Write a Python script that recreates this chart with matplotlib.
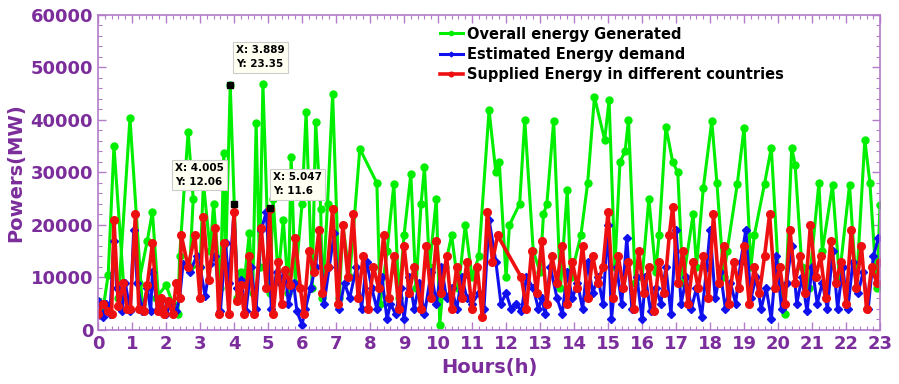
import numpy as np
import matplotlib
matplotlib.use("Agg")
import matplotlib.pyplot as plt
from matplotlib.ticker import MultipleLocator

# hours / values (MW)
gen_h = [0.0, 0.15, 0.3, 0.47, 0.75, 0.6, 0.94, 1.3, 1.2, 1.45, 1.6, 1.8, 1.7, 2.0, 2.2, 2.35,
         2.4, 2.65, 2.8, 2.7, 3.0, 3.1, 3.3, 3.4, 3.6, 3.7, 3.75, 3.889, 4.1, 4.2, 4.3, 4.45,
         4.55, 4.65, 4.75, 4.85, 5.05, 5.15, 5.3, 5.45, 5.6, 5.68, 5.8, 6.0, 6.12, 6.3, 6.4,
         6.55, 6.6, 6.75, 6.9, 7.1, 7.2, 7.4, 7.7, 8.2, 8.3, 8.5, 8.7, 8.85, 9.0, 9.2, 9.35,
         9.5, 9.6, 9.75, 9.95, 10.05, 10.2, 10.4, 10.6, 10.8, 11.0, 11.2, 11.5, 11.7, 11.8,
         12.0, 12.1, 12.4, 12.55, 12.8, 13.0, 13.1, 13.2, 13.4, 13.6, 13.8, 13.9, 14.2, 14.4,
         14.6, 14.9, 15.03, 15.2, 15.35, 15.5, 15.6, 15.8, 16.0, 16.2, 16.4, 16.5, 16.7, 16.9,
         17.05, 17.2, 17.5, 17.6, 17.8, 18.05, 18.2, 18.4, 18.5, 18.8, 19.0, 19.2, 19.3, 19.6,
         19.8, 20.0, 20.2, 20.4, 20.5, 20.7, 20.9, 21.2, 21.3, 21.6, 21.8, 22.1, 22.3, 22.55,
         22.7, 22.9, 23.0]
gen_v = [5500, 4000, 10500, 35000, 9000, 6000, 40400, 5000, 9000, 17000, 22500, 4000, 6000, 8500,
         5000, 3000, 14000, 37700, 25000, 12000, 12000, 28000, 15000, 24000, 8000, 33700, 12000,
         46700, 6000, 11000, 9000, 18500, 7000, 39400, 12000, 46900, 7000, 25000, 10000, 21000,
         7000, 33000, 9000, 24000, 41500, 8000, 39600, 23000, 6000, 24000, 45000, 6000, 20000,
         10000, 34500, 28000, 5000, 15000, 27800, 6000, 18000, 29700, 8000, 24000, 31000, 12000,
         25000, 1000, 12000, 18000, 8000, 20000, 10000, 14000, 41900, 30000, 32000, 10000, 20000,
         24000, 40000, 15000, 11000, 22000, 24000, 39800, 8000, 26700, 10000, 18000, 28000, 44400,
         36200, 43800, 12000, 32000, 34000, 40000, 9000, 10000, 25000, 11000, 18000, 38700, 32000,
         30000, 9000, 22000, 12000, 27000, 39800, 28000, 10000, 15000, 27800, 38500, 12000, 18000,
         27800, 34700, 12000, 3000, 34700, 31500, 12000, 8000, 28000, 15000, 27600, 10000, 27600,
         8000, 36200, 28000, 8000, 23800]

dem_h = [0.0, 0.15, 0.25, 0.35, 0.47, 0.55, 0.7, 0.8, 0.95, 1.05, 1.15, 1.3, 1.45, 1.55, 1.6,
         1.75, 1.85, 2.0, 2.15, 2.3, 2.4, 2.5, 2.7, 2.9, 3.0, 3.15, 3.3, 3.45, 3.6, 3.75, 3.85,
         4.0, 4.1, 4.2, 4.35, 4.5, 4.65, 4.8, 4.95, 5.1, 5.25, 5.35, 5.5, 5.6, 5.75, 5.85, 6.0,
         6.1, 6.25, 6.4, 6.5, 6.65, 6.8, 6.95, 7.1, 7.25, 7.4, 7.6, 7.75, 7.9, 8.05, 8.2, 8.35,
         8.5, 8.6, 8.75, 8.9, 9.0, 9.15, 9.3, 9.45, 9.6, 9.8, 9.95, 10.1, 10.25, 10.4, 10.55,
         10.7, 10.85, 11.0, 11.2, 11.35, 11.5, 11.7, 11.85, 12.0, 12.15, 12.3, 12.45, 12.6, 12.8,
         12.95, 13.05, 13.15, 13.3, 13.5, 13.65, 13.8, 13.95, 14.1, 14.25, 14.4, 14.55, 14.7,
         14.85, 15.0, 15.1, 15.25, 15.4, 15.55, 15.7, 15.85, 16.0, 16.1, 16.25, 16.4, 16.55,
         16.7, 16.85, 17.0, 17.15, 17.3, 17.45, 17.6, 17.75, 17.9, 18.0, 18.15, 18.3, 18.45,
         18.6, 18.75, 18.9, 19.05, 19.2, 19.35, 19.5, 19.65, 19.8, 19.95, 20.1, 20.25, 20.4,
         20.55, 20.7, 20.85, 21.0, 21.15, 21.3, 21.45, 21.6, 21.75, 21.9, 22.05, 22.2, 22.35,
         22.5, 22.65, 22.8, 22.95]
dem_v = [5500, 2500, 5000, 3000, 17000, 8000, 3500, 9000, 3500, 19000, 9000, 3500, 8000, 3500,
         11000, 4000, 6000, 3000, 5000, 3500, 6000, 12500, 11000, 14000, 12000, 6500, 12500, 14000,
         3500, 16500, 9000, 22500, 8000, 9500, 3500, 12000, 4000, 19000, 22500, 4000, 11000, 9000,
         11500, 5000, 9000, 3500, 1000, 4000, 8000, 12000, 19000, 5000, 12000, 18500, 4000, 9000,
         6000, 12000, 4000, 13000, 8000, 4000, 10000, 2000, 5000, 3000, 8000, 2000, 10000, 4000,
         9000, 3000, 11000, 5000, 12000, 6000, 8000, 4000, 10000, 6000, 5000, 7000, 4000, 21000,
         13000, 5000, 7000, 4000, 5000, 3500, 10000, 8000, 4000, 6000, 3000, 12000, 6000, 3000,
         11000, 6000, 9000, 4000, 13000, 7000, 10000, 5000, 20000, 2000, 12000, 5000, 17500, 4000,
         10000, 2000, 10000, 3500, 8000, 5000, 12000, 3000, 19000, 5000, 10000, 4000, 8000, 2500,
         12000, 19000, 6000, 11000, 4000, 9000, 5000, 13000, 19000, 6000, 10000, 4000, 8000, 2000,
         14000, 4000, 9000, 16000, 5000, 10000, 3500, 12000, 5000, 9000, 4000, 15000, 4000, 12000,
         4000, 13000, 7000, 11000, 4000, 14000, 17500]

sup_h = [0.0, 0.15, 0.3, 0.4, 0.47, 0.6, 0.75, 0.85, 0.95, 1.1, 1.2, 1.35, 1.45, 1.6, 1.75,
         1.85, 1.95, 2.05, 2.2, 2.3, 2.4, 2.45, 2.65, 2.85, 3.0, 3.1, 3.25, 3.45, 3.55, 3.7,
         3.85, 4.0, 4.1, 4.2, 4.3, 4.45, 4.6, 4.8, 4.95, 5.05, 5.15, 5.3, 5.4, 5.5, 5.65, 5.8,
         5.95, 6.05, 6.2, 6.35, 6.5, 6.6, 6.75, 6.9, 7.05, 7.2, 7.35, 7.5, 7.65, 7.8, 7.95, 8.1,
         8.25, 8.4, 8.55, 8.7, 8.85, 9.0, 9.15, 9.3, 9.5, 9.65, 9.8, 9.95, 10.1, 10.25, 10.4,
         10.55, 10.7, 10.85, 11.0, 11.15, 11.3, 11.45, 11.6, 11.75, 12.45, 12.6, 12.75, 12.9,
         13.05, 13.2, 13.35, 13.5, 13.65, 13.8, 13.95, 14.1, 14.25, 14.4, 14.55, 14.7, 14.85,
         15.0, 15.15, 15.3, 15.45, 15.6, 15.75, 15.9, 16.05, 16.2, 16.35, 16.5, 16.65, 16.8,
         16.9, 17.05, 17.2, 17.35, 17.5, 17.65, 17.8, 17.95, 18.1, 18.25, 18.4, 18.55, 18.7,
         18.85, 19.0, 19.15, 19.3, 19.45, 19.6, 19.75, 19.9, 20.05, 20.2, 20.35, 20.5, 20.65,
         20.8, 20.95, 21.1, 21.25, 21.4, 21.55, 21.7, 21.85, 22.0, 22.15, 22.3, 22.45, 22.6,
         22.75, 22.9, 23.0]
sup_v = [3000, 5000, 3500, 3000, 21000, 4500, 9000, 4000, 4000, 22000, 4000, 3500, 8500, 16500,
         3500, 6000, 3000, 5500, 3000, 9000, 6000, 18000, 12000, 18000, 6000, 21500, 9500, 19500,
         3000, 16500, 3000, 22500, 5500, 8500, 3000, 14000, 3000, 19500, 8000, 23000, 3000, 13000,
         5000, 11500, 8500, 17500, 8000, 3000, 15000, 11000, 19000, 7000, 12000, 23000, 5000,
         20000, 10000, 22000, 6000, 14000, 4000, 12000, 8000, 18000, 6000, 14000, 4000, 16000,
         7000, 12000, 4000, 16000, 6000, 17000, 7000, 14000, 4000, 12000, 6000, 13000, 4000,
         12000, 2500, 22500, 13000, 18000, 10000, 4000, 15000, 7000, 17000, 5000, 14000, 9000,
         16000, 5000, 13000, 8000, 16000, 6000, 14000, 9000, 12000, 22500, 6000, 14000, 8000,
         13000, 4000, 15000, 7000, 12000, 3500, 13000, 7000, 18000, 23500, 9000, 15000, 5000,
         13000, 8000, 14000, 6000, 22000, 9000, 16000, 5000, 13000, 8000, 16000, 5000, 12000,
         7000, 14000, 22000, 8000, 12000, 5000, 19000, 9000, 14000, 7000, 20000, 10000, 14000,
         6000, 17000, 9000, 13000, 5000, 19000, 8000, 16000, 4000, 12000, 9000, 13000]

labels = ["Overall energy Generated", "Estimated Energy demand",
          "Supplied Energy in different countries"]

purple = "#7b2d9b"
spine_c = "#b27cc8"

fig = plt.figure(figsize=(8.99, 3.84), dpi=100)
ax = fig.add_axes([0.109, 0.141, 0.870, 0.820])

ax.plot(gen_h, gen_v, "-o", color="#00ee00", lw=2.2, ms=5, label=labels[0])
ax.plot(dem_h, dem_v, "-D", color="#1010ee", lw=2.2, ms=4, label=labels[1])
ax.plot(sup_h, sup_v, "-o", color="#ee1010", lw=2.6, ms=5.5, label=labels[2])

# data tips
tips = [(3.889, 46700, "X: 3.889\nY: 23.35", (4.06, 54200)),
        (4.005, 24000, "X: 4.005\nY: 12.06", (2.26, 31800)),
        (5.047, 23200, "X: 5.047\nY: 11.6", (5.15, 30000))]
for xs, ys, txt, pos in tips:
    ax.plot(xs, ys, "s", color="black", ms=5, zorder=5)
    ax.text(pos[0], pos[1], txt, fontsize=7.5, fontweight="bold", va="top", ha="left",
            linespacing=1.5, zorder=6,
            bbox=dict(boxstyle="square,pad=0.3", fc="#fffff2", ec="#cccccc", lw=0.8))

ax.set_xlim(0, 23)
ax.set_ylim(0, 60000)
ax.xaxis.set_major_locator(MultipleLocator(1))
ax.xaxis.set_minor_locator(MultipleLocator(0.2))
ax.yaxis.set_major_locator(MultipleLocator(10000))
ax.yaxis.set_minor_locator(MultipleLocator(2000))
ax.tick_params(which="both", direction="in", top=True, right=True, color=spine_c)
ax.tick_params(which="major", length=6, width=1)
ax.tick_params(which="minor", length=3, width=0.8)
ax.tick_params(labelsize=13, labelcolor=purple)
for lab in ax.get_xticklabels() + ax.get_yticklabels():
    lab.set_fontweight("bold")
for s in ax.spines.values():
    s.set_color(spine_c)
    s.set_linewidth(1.2)

ax.set_xlabel("Hours(h)", fontsize=14, fontweight="bold", color=purple)
ax.set_ylabel("Powers(MW)", fontsize=14, fontweight="bold", color=purple)

leg = ax.legend(loc="upper left", bbox_to_anchor=(0.42, 1.005), frameon=False, handlelength=1.6,
                handletextpad=0.3, labelspacing=0.35, prop={"weight": "bold", "size": 10.5},
                markerscale=0.6)

fig.savefig("out.png", dpi=100)
